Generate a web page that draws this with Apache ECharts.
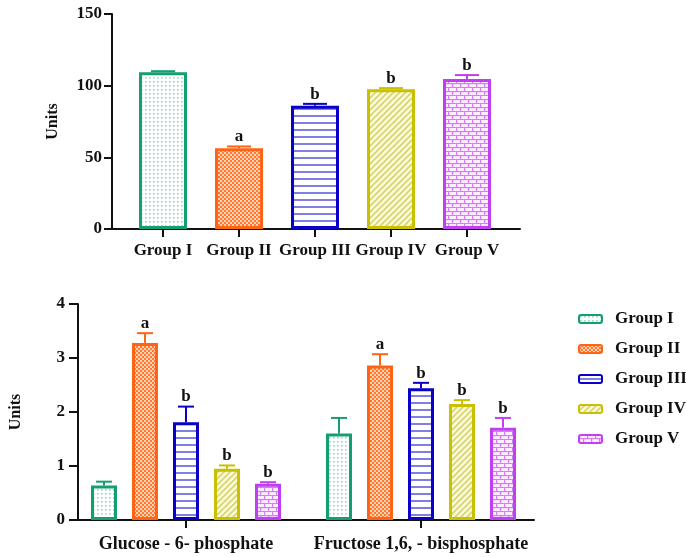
<!DOCTYPE html>
<html>
<head>
<meta charset="utf-8">
<script src="https://cdn.jsdelivr.net/npm/echarts@6/dist/echarts.min.js"></script>
<style>
  html, body { margin: 0; padding: 0; background: #fff; }
  #chart { width: 686px; height: 557px; }
</style>
</head>
<body>
<div id="chart"></div>
<script>
// ---- data ----
const groups = ['Group I', 'Group II', 'Group III', 'Group IV', 'Group V'];
// upper panel: one value per group
const topMeans = [109.3, 56.3, 86.0, 97.5, 104.7];
const topErrTop = [110.1, 57.6, 87.3, 98.3, 107.4];
const topLetters = ['', 'a', 'b', 'b', 'b'];
const topTicks = [0, 50, 100, 150];
// lower panel: two metabolites, one series per group
const metabolites = ['Glucose - 6- phosphate', 'Fructose 1,6, - bisphosphate'];
const g1Means = [0.64, 1.60];
const g2Means = [3.28, 2.86];
const g3Means = [1.81, 2.44];
const g4Means = [0.95, 2.15];
const g5Means = [0.67, 1.71];
const g1ErrTop = [0.71, 1.89];
const g2ErrTop = [3.46, 3.07];
const g3ErrTop = [2.10, 2.54];
const g4ErrTop = [1.01, 2.22];
const g5ErrTop = [0.70, 1.89];
const g1Letters = ['', ''];
const g2Letters = ['a', 'a'];
const g3Letters = ['b', 'b'];
const g4Letters = ['b', 'b'];
const g5Letters = ['b', 'b'];
const bottomTicks = [0, 1, 2, 3, 4];

const colors = ['#14a06e', '#ff6414', '#0a00c8', '#c8c000', '#c03ff0'];
const FONT = '"Liberation Serif", "Times New Roman", serif';

// ---- fill patterns ----
function makeCanvas(w, h, draw) {
  const c = document.createElement('canvas');
  c.width = w; c.height = h;
  const ctx = c.getContext('2d');
  draw(ctx, w, h);
  return c;
}
const patterns = [
  // dots
  makeCanvas(4, 4, (ctx) => {
    ctx.fillStyle = '#ffffff'; ctx.fillRect(0, 0, 4, 4);
    ctx.fillStyle = '#9ad8bf'; ctx.fillRect(1, 1, 1.6, 1.6);
  }),
  // fine checker
  makeCanvas(4, 4, (ctx) => {
    ctx.fillStyle = '#ff7a30'; ctx.fillRect(0, 0, 4, 4);
    ctx.fillStyle = '#ffd2b6';
    ctx.fillRect(0, 0, 2, 2); ctx.fillRect(2, 2, 2, 2);
  }),
  // horizontal lines
  makeCanvas(4, 7, (ctx) => {
    ctx.fillStyle = '#ffffff'; ctx.fillRect(0, 0, 4, 7);
    ctx.fillStyle = '#8080e4'; ctx.fillRect(0, 3, 4, 2);
  }),
  // diagonal hatch
  makeCanvas(6, 6, (ctx) => {
    ctx.fillStyle = '#fbfbe6'; ctx.fillRect(0, 0, 6, 6);
    ctx.strokeStyle = '#d8d468'; ctx.lineWidth = 1.6;
    ctx.beginPath();
    ctx.moveTo(-1, 7); ctx.lineTo(7, -1);
    ctx.moveTo(-4, 4); ctx.lineTo(4, -4);
    ctx.moveTo(2, 10); ctx.lineTo(10, 2);
    ctx.stroke();
  }),
  // bricks
  makeCanvas(8, 8, (ctx) => {
    ctx.fillStyle = '#fbeefe'; ctx.fillRect(0, 0, 8, 8);
    ctx.fillStyle = '#d47ef4';
    ctx.fillRect(0, 3, 8, 1.2); ctx.fillRect(0, 7, 8, 1.2);
    ctx.fillRect(0, 0, 1.2, 3); ctx.fillRect(4, 4, 1.2, 3);
  })
];
const fills = patterns.map(p => ({ image: p, repeat: 'repeat' }));

// ---- error bar + letter renderer ----
function errorRenderer(color, offset, capHalf, letters) {
  return function (params, api) {
    const cat = api.value(0);
    const base = api.coord([cat, api.value(1)]);
    const top = api.coord([cat, api.value(2)]);
    const x = base[0] + offset;
    const letter = letters[params.dataIndex];
    const children = [
      { type: 'line', shape: { x1: x, y1: base[1], x2: x, y2: top[1] },
        style: { stroke: color, lineWidth: 2 } },
      { type: 'line', shape: { x1: x - capHalf, y1: top[1], x2: x + capHalf, y2: top[1] },
        style: { stroke: color, lineWidth: 2 } }
    ];
    if (letter) {
      children.push({ type: 'text', x: x, y: top[1] - 1,
        style: { text: letter, fill: '#111', font: 'bold 17px ' + FONT,
                 textAlign: 'center', textVerticalAlign: 'bottom' } });
    }
    return { type: 'group', children: children };
  };
}

const axisText = { color: '#111', fontFamily: FONT, fontWeight: 'bold', fontSize: 17 };
const lineStyle = { color: '#111', width: 2 };

// ---- build series ----
const series = [];
// upper panel bars
series.push({
  name: 'Units', type: 'bar', xAxisIndex: 1, yAxisIndex: 1,
  barWidth: 48,
  data: topMeans.map((v, i) => ({
    value: v,
    itemStyle: { color: fills[i], borderColor: colors[i], borderWidth: 3 }
  })),
  z: 2
});
topMeans.forEach((v, i) => {
  series.push({
    name: 'err-top-' + i, type: 'custom', xAxisIndex: 1, yAxisIndex: 1,
    renderItem: errorRenderer(colors[i], 0, 12, [topLetters[i]]),
    data: [[i, v, topErrTop[i]]],
    z: 3
  });
});

// lower panel bars
const lowMeans = [g1Means, g2Means, g3Means, g4Means, g5Means];
const lowErr = [g1ErrTop, g2ErrTop, g3ErrTop, g4ErrTop, g5ErrTop];
const lowLetters = [g1Letters, g2Letters, g3Letters, g4Letters, g5Letters];
const lowBarWidth = 26;
const lowGap = 0.577;
const step = lowBarWidth * (1 + lowGap);
groups.forEach((g, i) => {
  series.push({
    name: g, type: 'bar', xAxisIndex: 3, yAxisIndex: 3,
    barWidth: lowBarWidth, barGap: (lowGap * 100) + '%',
    itemStyle: { color: fills[i], borderColor: colors[i], borderWidth: 3 },
    data: lowMeans[i],
    z: 2
  });
});
groups.forEach((g, i) => {
  series.push({
    name: 'err-low-' + i, type: 'custom', xAxisIndex: 3, yAxisIndex: 3,
    renderItem: errorRenderer(colors[i], (i - 2) * step, 8, lowLetters[i]),
    data: lowMeans[i].map((v, k) => [k, v, lowErr[i][k]]),
    z: 3
  });
});

const option = {
  animation: false,
  backgroundColor: '#fff',
  legend: {
    data: groups,
    orient: 'vertical',
    left: 578, top: 310, padding: 0,
    itemWidth: 23, itemHeight: 8,
    itemGap: 12,
    textStyle: { color: '#111', fontFamily: FONT, fontWeight: 'bold', fontSize: 17, lineHeight: 18, padding: [0, 0, 0, 8] },
    selectedMode: false
  },
  grid: [
    // upper panel: axis frame and category band
    { left: 112, top: 14, width: 408, height: 215 },
    { left: 125, top: 14, width: 380, height: 215 },
    // lower panel: axis frame and category band
    { left: 77, top: 304, width: 457, height: 216 },
    { left: 68.5, top: 304, width: 470, height: 216 }
  ],
  xAxis: [
    { gridIndex: 0, type: 'value', min: 0, max: 1, axisLine: { show: true, lineStyle: lineStyle },
      axisTick: { show: false }, axisLabel: { show: false }, splitLine: { show: false } },
    { gridIndex: 1, type: 'category', data: groups, axisLine: { show: false },
      axisTick: { show: true, alignWithLabel: true, length: 8, lineStyle: lineStyle },
      axisLabel: Object.assign({ margin: 13, interval: 0 }, axisText) },
    { gridIndex: 2, type: 'value', min: 0, max: 1, axisLine: { show: true, lineStyle: lineStyle },
      axisTick: { show: false }, axisLabel: { show: false }, splitLine: { show: false } },
    { gridIndex: 3, type: 'category', data: metabolites, axisLine: { show: false },
      axisTick: { show: true, alignWithLabel: true, length: 8, lineStyle: lineStyle },
      axisLabel: Object.assign({}, axisText, { margin: 15, interval: 0, fontSize: 18 }) }
  ],
  yAxis: [
    { gridIndex: 0, type: 'value', min: topTicks[0], max: topTicks[topTicks.length - 1], interval: 50,
      name: 'Units', nameLocation: 'middle', nameGap: 51, nameRotate: 90,
      nameTextStyle: { color: '#111', fontFamily: FONT, fontWeight: 'bold', fontSize: 16 },
      axisLine: { show: true, lineStyle: lineStyle },
      axisTick: { show: true, length: 8, lineStyle: lineStyle },
      axisLabel: Object.assign({ margin: 10 }, axisText), splitLine: { show: false } },
    { gridIndex: 1, type: 'value', min: 0, max: 150, show: false, splitLine: { show: false } },
    { gridIndex: 2, type: 'value', min: bottomTicks[0], max: bottomTicks[bottomTicks.length - 1], interval: 1,
      name: 'Units', nameLocation: 'middle', nameGap: 54, nameRotate: 90,
      nameTextStyle: { color: '#111', fontFamily: FONT, fontWeight: 'bold', fontSize: 16 },
      axisLine: { show: true, lineStyle: lineStyle },
      axisTick: { show: true, length: 9, lineStyle: lineStyle },
      axisLabel: Object.assign({ margin: 13 }, axisText), splitLine: { show: false } },
    { gridIndex: 3, type: 'value', min: 0, max: 4, show: false, splitLine: { show: false } }
  ],
  series: series
};

const chart = echarts.init(document.getElementById('chart'), null, { renderer: 'canvas' });
chart.setOption(option);
</script>
</body>
</html>
